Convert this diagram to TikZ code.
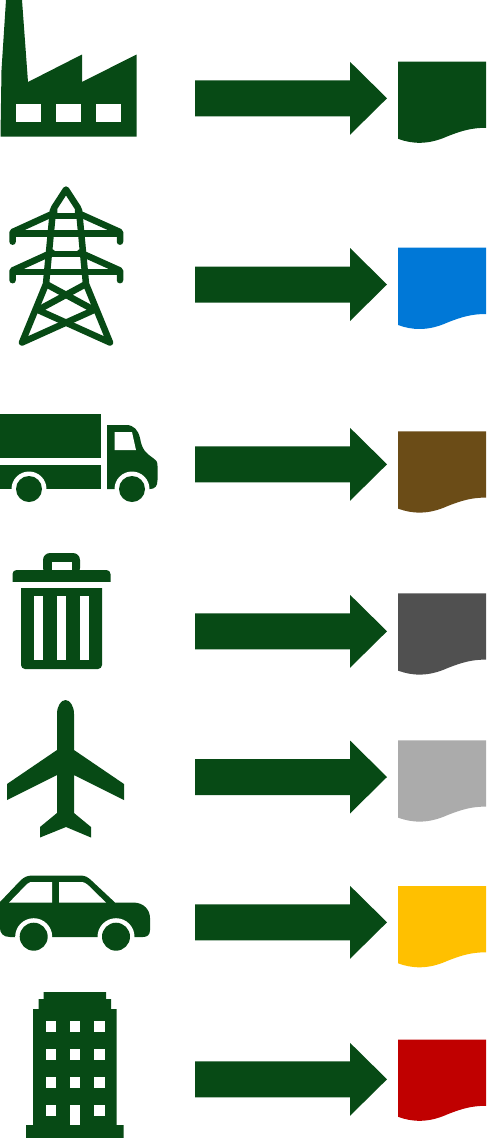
\documentclass[tikz,border=0pt]{standalone}
\usetikzlibrary{arrows.meta,calc}
\definecolor{icongreen}{HTML}{074A15}
\definecolor{fuelblue}{HTML}{0078D7}
\definecolor{fuelbrown}{HTML}{6B4C17}
\definecolor{fueldark}{HTML}{505050}
\definecolor{fuelgrey}{HTML}{ABABAB}
\definecolor{fuelyellow}{HTML}{FFC000}
\definecolor{fuelred}{HTML}{C00000}
\tikzset{
  icon/.style={fill=icongreen},
  hole/.style={fill=white},
  wire/.style={draw=icongreen, line width=6.5pt, line cap=round, line join=round},
}
\begin{document}
\begin{tikzpicture}[x=1pt, y=-1pt]
  \useasboundingbox (0,0) rectangle (487,1138);
  % block arrows and wavy sheets, one per row: arrow mid | sheet top | colour
  \foreach \y/\t/\c in {98.3/61.5/icongreen,284.5/247.7/fuelblue,464.3/431.3/fuelbrown,631.3/593.3/fueldark,777/740.3/fuelgrey,922.3/886/fuelyellow,1079.3/1039.5/fuelred}{
    \fill[icon] (195,\y-18) -- (350,\y-18) -- (350,\y-36.5) -- (387,\y) -- (350,\y+36.5) -- (350,\y+18) -- (195,\y+18) -- cycle;
    \fill[fill=\c] (398,\t) -- (486,\t) -- (486,\t+66.3) .. controls (472,\t+66.3) and (462,\t+69) .. (447,\t+75)
      .. controls (428,\t+83.5) and (412,\t+82.5) .. (398,\t+77.3) -- cycle;
  }
  % factory
  \fill[icon] (0.5,136.5) -- (1.5,70) -- (6,0) -- (22,0) -- (28,82) -- (82,54.5) -- (82,82) -- (136.5,54.5) -- (136.5,136.5) -- cycle;
  \foreach \x in {16,56,96}{\fill[hole] (\x,104) rectangle (\x+24.5,122);}
  % pylon
  \draw[wire] (54,214) -- (54,208) -- (66,189.5) -- (78,208) -- (78,214);
  \draw[wire] (53,210) -- (46,284) -- (22,342.5) -- (94,310);
  \draw[wire] (79,210) -- (86,284) -- (110,342.5) -- (38,310);
  \draw[wire] (46,284) -- (94,310);
  \draw[wire] (86,284) -- (38,310);
  \foreach \y in {0,38.5}{
    \draw[wire] (12.6,\y+241.7) -- (12.6,\y+232) -- (52,\y+214);
    \draw[wire] (120,\y+241.7) -- (120,\y+232) -- (80,\y+214);
    \draw[wire, line cap=butt] (12.6,\y+233.5) -- (120,\y+233.5);
  }
  \draw[wire, line cap=butt] (54,216) -- (78,216);
  \draw[wire, line cap=butt] (50,254) -- (82,254);
  % truck
  \fill[icon] (0,414) rectangle (100.5,457.5);
  \fill[icon] (0,464.5) rectangle (100.5,489);
  \fill[icon] (107,425) -- (126,425) .. controls (134,425) and (138,430) .. (140,438) .. controls (142,450) and (146,453) .. (153,458)
    .. controls (156,460) and (157.5,461) .. (157.5,466) -- (157.5,480) .. controls (157.5,486) and (155,489) .. (150,489) -- (107,489) -- cycle;
  \fill[hole] (114.5,432) -- (132,432) -- (136,450) -- (114.5,450) -- cycle;
  \foreach \x in {29,132}{
    \fill[hole] (\x,489) circle (17.5);
    \fill[icon] (\x,489) circle (13);
  }
  % bin
  \fill[icon, rounded corners=7pt] (43,575) -- (43,553) -- (80,553) -- (80,575) -- cycle;
  \fill[hole] (51.5,561.5) rectangle (72,571);
  \fill[icon, rounded corners=4pt] (12.5,584) -- (12.5,570) -- (110.5,570) -- (110.5,584);
  \fill[hole] (10,582) rectangle (113,588);
  \fill[icon, rounded corners=4pt] (21,588) -- (21,669) -- (102,669) -- (102,588);
  \fill[icon] (21,588) rectangle (102,600);
  \foreach \x in {34,57,80}{\fill[hole] (\x,596) rectangle (\x+9,660);}
  % plane
  \fill[icon] (57,750) -- (7,784) -- (7,800) -- (57,775) -- (57,813) -- (40,827) -- (40,837.5) -- (66,827) -- (91,837.5) -- (91,827)
    -- (74,813) -- (74,775) -- (124,800) -- (124,784) -- (74,750) -- (74,714) .. controls (74,706) and (70,700) .. (65.5,700)
    .. controls (61,700) and (57,706) .. (57,714) -- cycle;
  % car
  \fill[icon] (0,902) -- (20,881) .. controls (24,877) and (27,875.5) .. (33,875.5) -- (80,875.5) .. controls (85,875.5) and (88,877) .. (92,881)
    -- (115,902.5) -- (133,902.5) .. controls (144,902.5) and (150,910) .. (150,918) -- (150,930) .. controls (150,935) and (147,937) .. (143,937)
    -- (10,937) .. controls (3,937) and (0,933) .. (0,928) -- cycle;
  \fill[hole] (9,902.6) -- (27,884) .. controls (29,882) and (31,882) .. (33,882) -- (52,882) -- (52,902.6) -- cycle;
  \fill[hole] (59,882) -- (80,882) .. controls (84,882) and (86,883) .. (88,885) -- (106,902.6) -- (59,902.6) -- cycle;
  \foreach \x in {33.7,116}{
    \fill[hole] (\x,936.7) circle (18.5);
    \fill[icon] (\x,936.7) circle (14);
  }
  % building
  \fill[icon] (26,1138) -- (26,1125) -- (33,1125) -- (33,1009) -- (38.5,1009) -- (38.5,999) -- (43.5,999) -- (43.5,992)
    -- (106,992) -- (106,999) -- (111,999) -- (111,1009) -- (116.5,1009) -- (116.5,1125) -- (123.5,1125) -- (123.5,1138) -- cycle;
  \foreach \x in {45.5,69.5,94}{\foreach \y in {1021,1049,1077}{\fill[hole] (\x,\y) rectangle (\x+10.5,\y+10.5);}}
  \fill[hole] (45.5,1105) rectangle (56,1115.5);
  \fill[hole] (94,1105) rectangle (104.5,1115.5);
  \fill[hole] (69.5,1105) rectangle (80,1125);
\end{tikzpicture}
\end{document}
